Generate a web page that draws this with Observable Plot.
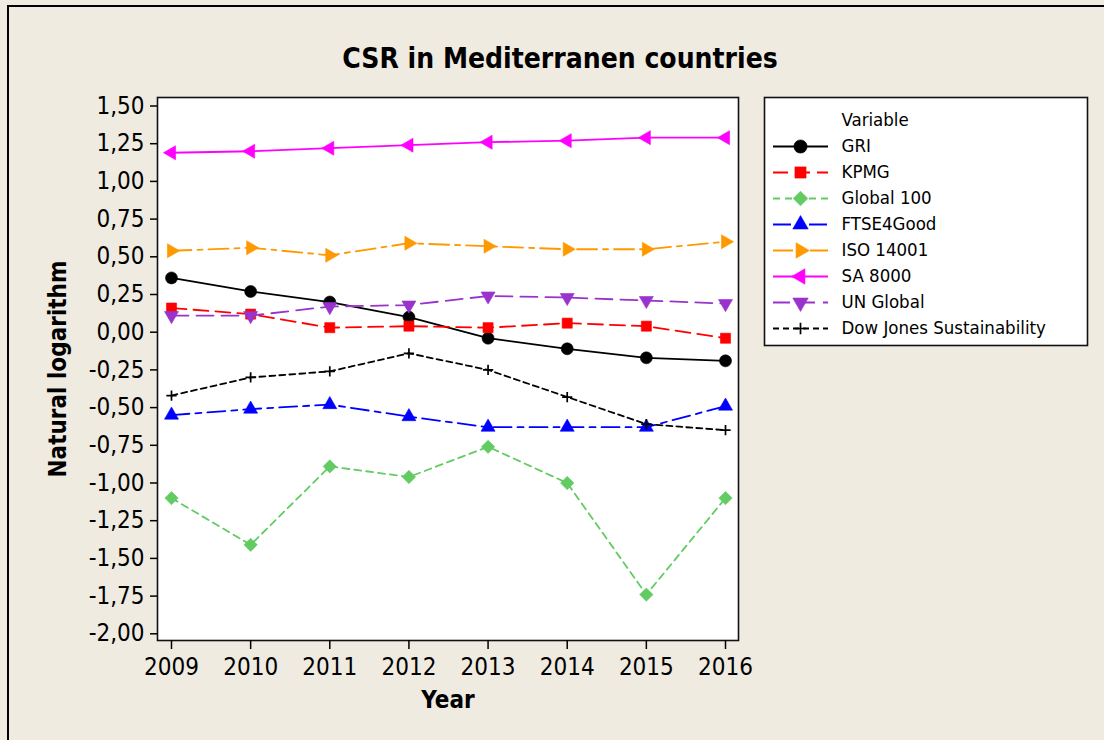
<!DOCTYPE html>
<html>
<head>
<meta charset="utf-8">
<script src="https://cdn.jsdelivr.net/npm/d3@7"></script>
<script src="https://cdn.jsdelivr.net/npm/@observablehq/plot@0.6"></script>
<style>
html, body { margin: 0; padding: 0; background: #EFEBE1; }
#wrap { position: relative; width: 1104px; height: 740px; overflow: hidden; background: #EFEBE1; }
#border { position: absolute; left: 7px; top: 5px; width: 1200px; height: 800px; border-top: 2px solid #000; border-left: 2px solid #000; box-sizing: border-box; }
#chart { position: absolute; left: 0; top: 0; }
#legend { position: absolute; left: 764px; top: 97px; }
</style>
</head>
<body>
<div id="wrap"><div id="border"></div><div id="chart"></div><div id="legend"></div></div>
<script>
const years = [2009, 2010, 2011, 2012, 2013, 2014, 2015, 2016];
const yTicks = [-2, -1.75, -1.5, -1.25, -1, -0.75, -0.5, -0.25, 0, 0.25, 0.5, 0.75, 1, 1.25, 1.5];
const seriesNames = ["GRI", "KPMG", "Global 100", "FTSE4Good", "ISO 14001", "SA 8000", "UN Global", "Dow Jones Sustainability"];

const gri       = [0.36, 0.27, 0.20, 0.10, -0.04, -0.11, -0.17, -0.19];
const kpmg      = [0.16, 0.12, 0.03, 0.04, 0.03, 0.06, 0.04, -0.04];
const global100 = [-1.10, -1.41, -0.89, -0.96, -0.76, -1.00, -1.74, -1.10];
const ftse4good = [-0.55, -0.51, -0.48, -0.56, -0.63, -0.63, -0.63, -0.49];
const iso14001  = [0.54, 0.56, 0.51, 0.59, 0.57, 0.55, 0.55, 0.60];
const sa8000    = [1.19, 1.20, 1.22, 1.24, 1.26, 1.27, 1.29, 1.29];
const unGlobal  = [0.11, 0.11, 0.17, 0.18, 0.24, 0.23, 0.21, 0.19];
const dowJones  = [-0.42, -0.30, -0.26, -0.14, -0.25, -0.43, -0.61, -0.65];

const seriesValues = [gri, kpmg, global100, ftse4good, iso14001, sa8000, unGlobal, dowJones];

const styles = {
  "GRI":                      {color: "#000000", dash: null,          symbol: "circle",   rotate: 0,   r: 6.0, filled: true},
  "KPMG":                     {color: "#FF0000", dash: "15,7",        symbol: "square",   rotate: 0,   r: 5.7, filled: true},
  "Global 100":               {color: "#62CB62", dash: "7,5",         symbol: "diamond2", rotate: 0,   r: 6.0, filled: true},
  "FTSE4Good":                {color: "#0000FF", dash: "18,6,6,6",    symbol: "triangle", rotate: 0,   r: 5.2, filled: true},
  "ISO 14001":                {color: "#FF9900", dash: "20,6,5,6",    symbol: "triangle", rotate: 90,  r: 5.2, filled: true},
  "SA 8000":                  {color: "#FF00FF", dash: null,          symbol: "triangle", rotate: -90, r: 5.2, filled: true},
  "UN Global":                {color: "#9933CC", dash: "17,8",        symbol: "triangle", rotate: 180, r: 5.2, filled: true},
  "Dow Jones Sustainability": {color: "#000000", dash: "6,4",         symbol: "plus",     rotate: 0,   r: 3.4, filled: false}
};

const table = seriesNames.flatMap((name, i) =>
  years.map((year, j) => ({name, year, value: seriesValues[i][j]})));

const fmt = d => d.toFixed(2).replace(".", ",");
const FONT = "'DejaVu Sans Condensed', 'DejaVu Sans', sans-serif";

const dotOpts = (s, base) => s.filled
  ? {...base, symbol: s.symbol, r: s.r, fill: s.color, stroke: s.color, strokeWidth: 0.6, rotate: s.rotate}
  : {...base, symbol: s.symbol, r: s.r, fill: "none", stroke: s.color, strokeWidth: 1.7, rotate: s.rotate};

const seriesMarks = seriesNames.flatMap(name => {
  const s = styles[name];
  const data = table.filter(d => d.name === name);
  return [
    Plot.line(data, {x: "year", y: "value", stroke: s.color, strokeWidth: 1.8, strokeDasharray: s.dash ?? undefined}),
    Plot.dot(data, dotOpts(s, {x: "year", y: "value"}))
  ];
});

const chart = Plot.plot({
  width: 1104,
  height: 740,
  marginLeft: 157,
  marginRight: 366,
  marginTop: 97,
  marginBottom: 100,
  style: {background: "transparent", fontFamily: FONT, fontSize: "24px", color: "black", overflow: "visible"},
  x: {domain: [2009, 2016], insetLeft: 14, insetRight: 13},
  y: {domain: [-2, 1.5], insetTop: 8.5, insetBottom: 6.7},
  marks: [
    Plot.frame({fill: "white", stroke: "none"}),
    ...seriesMarks,
    Plot.frame({stroke: "#111", strokeWidth: 1.6}),
    Plot.axisX({ticks: years, tickFormat: d => String(d), tickSize: 9, tickPadding: 8, label: null, fontSize: 24, strokeWidth: 1.5}),
    Plot.axisY({ticks: yTicks, tickFormat: fmt, tickSize: 7, tickPadding: 6, label: null, fontSize: 24, strokeWidth: 1.5}),
    Plot.text(["CSR in Mediterranen countries"], {frameAnchor: "top", dx: 112, dy: -38, fontSize: 28, fontWeight: "bold", lineAnchor: "middle", textAnchor: "middle"}),
    Plot.text(["Year"], {frameAnchor: "bottom", dx: 0, dy: 60, fontSize: 24, fontWeight: "bold", lineAnchor: "middle", textAnchor: "middle"}),
    Plot.text(["Natural logarithm"], {frameAnchor: "left", dx: -99, dy: 0, rotate: -90, fontSize: 24, fontWeight: "bold", lineAnchor: "middle", textAnchor: "middle"})
  ]
});
document.getElementById("chart").appendChild(chart);

// Legend
const legendRows = ["Variable", ...seriesNames];
const legendMarks = seriesNames.flatMap(name => {
  const s = styles[name];
  return [
    Plot.ruleY([name], {y: d => d, x1: 9, x2: 64, stroke: s.color, strokeWidth: 1.8, strokeDasharray: s.dash ?? undefined}),
    Plot.dot([name], dotOpts({...s, r: s.r * 1.1}, {x: 36, y: d => d}))
  ];
});
const legend = Plot.plot({
  width: 323,
  height: 248,
  margin: 0,
  style: {background: "transparent", fontFamily: FONT, fontSize: "18.5px", color: "black", overflow: "visible"},
  x: {type: "identity", axis: null},
  y: {type: "point", domain: legendRows, range: [21, 233], padding: 0, axis: null},
  marks: [
    Plot.frame({fill: "white", stroke: "#111", strokeWidth: 1.6}),
    ...legendMarks,
    Plot.text(legendRows, {x: 77, y: d => d, text: d => d, textAnchor: "start", fontSize: 18.5})
  ]
});
document.getElementById("legend").appendChild(legend);
</script>
</body>
</html>
